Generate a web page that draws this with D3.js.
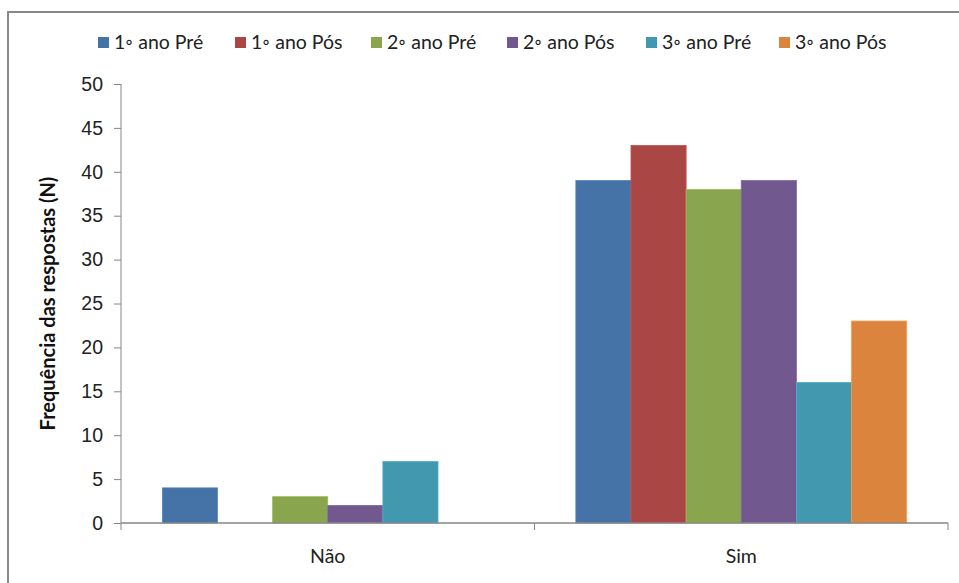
<!DOCTYPE html>
<html>
<head>
<meta charset="utf-8">
<script src="https://cdn.jsdelivr.net/npm/d3@7"></script>
<style>
  html, body { margin: 0; padding: 0; background: #fff; }
  svg { display: block; font-family: Lato, "Open Sans", sans-serif; }
</style>
</head>
<body>
<svg id="chart" width="959" height="583"></svg>
<script>
// Respostas por categoria e por turma (pré/pós)
const categories = ["Não", "Sim"];
const seriesNames = ["1◦ ano Pré", "1◦ ano Pós", "2◦ ano Pré", "2◦ ano Pós", "3◦ ano Pré", "3◦ ano Pós"];
const seriesColors = ["#4572A7", "#AA4643", "#89A54E", "#71588F", "#4198AF", "#DB843D"];
const naoValues = [4, 0, 3, 2, 7, 0];
const simValues = [39, 43, 38, 39, 16, 23];
const yTicks = [0, 5, 10, 15, 20, 25, 30, 35, 40, 45, 50];

const valuesByCategory = [naoValues, simValues];

const svg = d3.select("#chart");
const margin = { left: 121, right: 11, top: 84, bottom: 60 };
const W = 959, H = 583;
const plotW = W - margin.left - margin.right;
const plotH = H - margin.top - margin.bottom;

// Chart frame
svg.append("rect")
  .attr("x", 8).attr("y", 12)
  .attr("width", 980).attr("height", 600)
  .attr("fill", "#fff").attr("stroke", "#888").attr("stroke-width", 2);

const g = svg.append("g").attr("transform", `translate(${margin.left},${margin.top})`);

const x0 = d3.scaleBand().domain(categories).range([0, plotW]).paddingInner(0).paddingOuter(0);
const x1 = d3.scaleBand().domain(seriesNames).range([0, x0.bandwidth()])
  .paddingInner(0).paddingOuter(0.75);
const y = d3.scaleLinear().domain([0, 50]).range([plotH, 0]);

// Bars
const groups = g.selectAll("g.cat").data(categories).join("g")
  .attr("class", "cat")
  .attr("transform", d => `translate(${x0(d)},0)`);

groups.selectAll("rect")
  .data((c, i) => seriesNames.map((s, j) => ({ s, j, v: valuesByCategory[i][j] })))
  .join("rect")
  .filter(d => d.v > 0)
  .attr("x", d => x1(d.s))
  .attr("y", d => y(d.v))
  .attr("width", x1.bandwidth())
  .attr("height", d => y(0) - y(d.v))
  .attr("fill", d => seriesColors[d.j])
  .attr("stroke", d => d3.color(seriesColors[d.j]).brighter(0.4))
  .attr("stroke-width", 0.8);

// Y axis
const yAxis = g.append("g")
  .call(d3.axisLeft(y).tickValues(yTicks).tickSize(7).tickPadding(11));
yAxis.select(".domain").attr("stroke", "#868686").attr("d", `M0,${plotH}V0`);
yAxis.selectAll(".tick line").attr("stroke", "#868686");
yAxis.selectAll(".tick text").attr("fill", "#222").style("font-size", "19.5px");

// X axis
const xAxis = g.append("g").attr("transform", `translate(0,${plotH})`);
xAxis.append("line").attr("x1", 0).attr("x2", plotW).attr("stroke", "#868686").attr("stroke-width", 1.5);
[0, x0.bandwidth(), plotW].forEach(px => {
  xAxis.append("line").attr("x1", px).attr("x2", px).attr("y1", 0).attr("y2", 7)
    .attr("stroke", "#868686");
});
xAxis.selectAll("text.cat").data(categories).join("text")
  .attr("class", "cat")
  .attr("x", d => x0(d) + x0.bandwidth() / 2)
  .attr("y", 40)
  .attr("text-anchor", "middle")
  .attr("fill", "#222")
  .style("font-size", "19.5px")
  .text(d => d);

// Y axis title
svg.append("text")
  .attr("transform", `translate(55,${margin.top + plotH / 2}) rotate(-90)`)
  .attr("text-anchor", "middle")
  .attr("fill", "#111")
  .style("font-size", "20px")
  .style("font-weight", "bold")
  .text("Frequência das respostas (N)");

// Legend
const legendX = [98, 235, 371, 507, 646, 779];
const legend = svg.selectAll("g.leg").data(seriesNames).join("g")
  .attr("class", "leg")
  .attr("transform", (d, i) => `translate(${legendX[i]},37)`);
legend.append("rect").attr("width", 11).attr("height", 11)
  .attr("fill", (d, i) => seriesColors[i]);
legend.append("text").attr("x", 16).attr("y", 12)
  .attr("fill", "#222").style("font-size", "19.5px")
  .text(d => d);
</script>
</body>
</html>
